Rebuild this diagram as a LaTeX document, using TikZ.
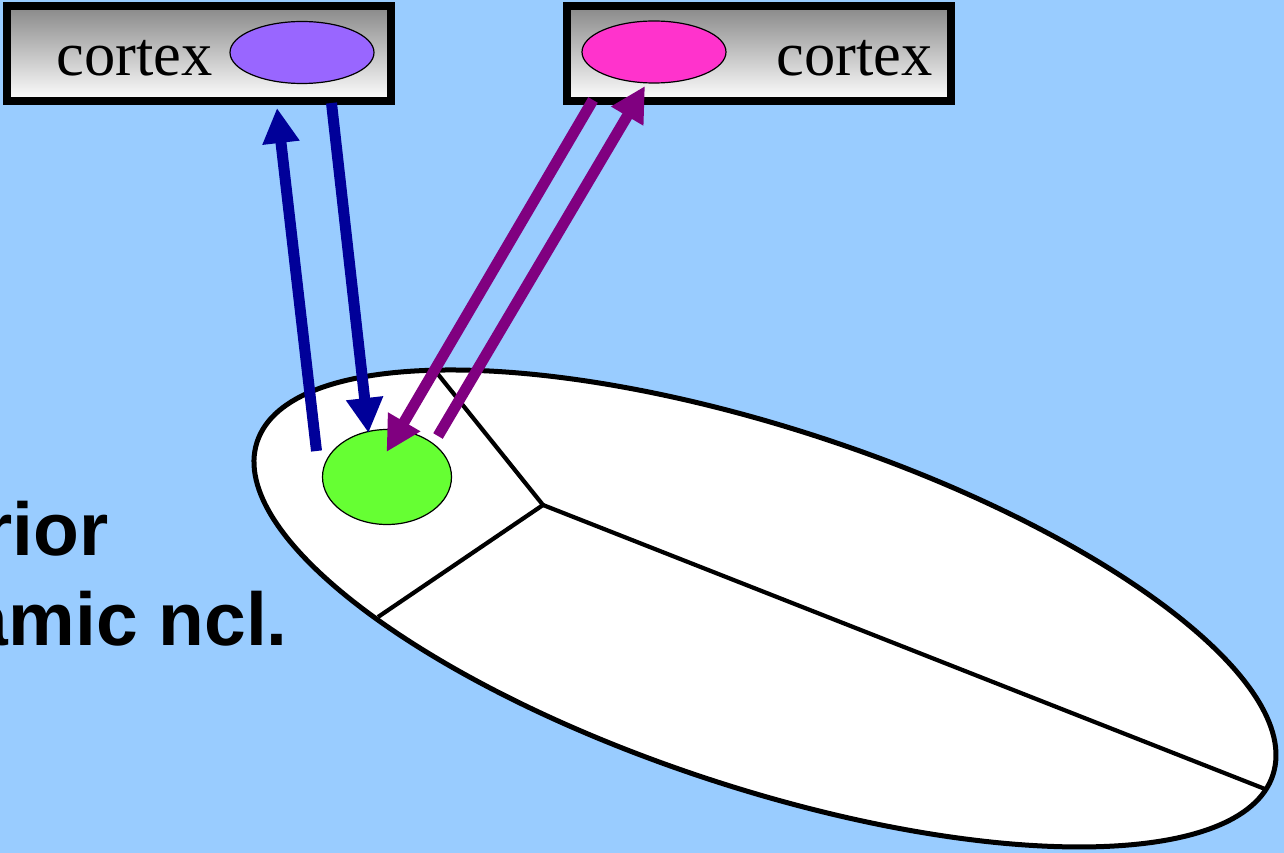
\documentclass[tikz,border=0pt]{standalone}
\usepackage{fontspec}
\newfontfamily\cortexfont{Liberation Serif}
\newfontfamily\labfont{Liberation Sans}
\usetikzlibrary{arrows.meta,shapes.geometric}
\definecolor{bgblue}{HTML}{99CCFF}
\definecolor{boxgray}{HTML}{888888}
\definecolor{clilac}{HTML}{9966FF}
\definecolor{cmagenta}{HTML}{FF33CC}
\definecolor{cgreen}{HTML}{66FF33}
\definecolor{arrblue}{HTML}{000099}
\definecolor{arrpurple}{HTML}{800080}
\begin{document}
\begin{tikzpicture}[x=1pt,y=-1pt,
  cbox/.style={draw, line width=8pt, top color=boxgray, bottom color=white,
    minimum width=384pt, minimum height=95pt, inner sep=0pt},
  blob/.style={ellipse, draw, line width=1.2pt, inner sep=0pt},
  ctext/.style={font=\cortexfont\fontsize{62.5}{70}\selectfont, inner sep=0pt, anchor=base west},
  lab/.style={font=\labfont\bfseries\fontsize{75}{90}\selectfont, inner sep=0pt, anchor=base east},
  fibre/.style={line width=11pt, -{Triangle[length=35pt,width=35pt]}},
  region/.style={line width=4.2pt}]
\useasboundingbox (0,0) rectangle (1284,853);
\fill[bgblue] (0,0) rectangle (1284,853);
\clip (0,0) rectangle (1284,853);

% thalamus outline
\coordinate (thc) at (765,608.5);
\draw[line width=5pt, fill=white, rotate around={-18.15:(thc)}]
  (thc) ellipse [x radius=534.5pt, y radius=179.7pt];
\coordinate (jn) at (543,505);
\coordinate (topend) at (437,373);
\coordinate (leftend) at (378,617);
\coordinate (rightend) at (1265,789);
\draw[region] (topend) -- (jn) -- (leftend);
\draw[region] (jn) -- (rightend);

% nucleus
\node[blob, fill=cgreen, minimum width=129pt, minimum height=95pt] (nuc) at (387,477) {};

% cortex boxes
\node[cbox] (lbox) at (199,53.5) {};
\node[ctext] (ltext) at (56.5,76) {cortex};
\node[blob, fill=clilac, minimum width=144pt, minimum height=62pt] (lblob) at (302,52.5) {};

\node[cbox] (rbox) at (759,53.5) {};
\node[ctext] (rtext) at (776.5,76) {cortex};
\node[blob, fill=cmagenta, minimum width=144pt, minimum height=62pt] (rblob) at (654,52) {};

% labels
\node[lab] (lab1) at (109,555) {rior};
\node[lab] (lab2) at (288,645) {amic ncl.};

% arrow end points
\coordinate (b1s) at (316.5,451);
\coordinate (b1e) at (277,108);
\coordinate (b2s) at (331.5,103);
\coordinate (b2e) at (368.5,433);
\coordinate (p1s) at (593,100);
\coordinate (p1e) at (386.5,452);
\coordinate (p2s) at (438,436);
\coordinate (p2e) at (645,86);

\draw[fibre, arrblue] (b1s) -- (b1e);
\draw[fibre, arrblue] (b2s) -- (b2e);
\draw[fibre, arrpurple] (p1s) -- (p1e);
\draw[fibre, arrpurple] (p2s) -- (p2e);
\end{tikzpicture}
\end{document}
